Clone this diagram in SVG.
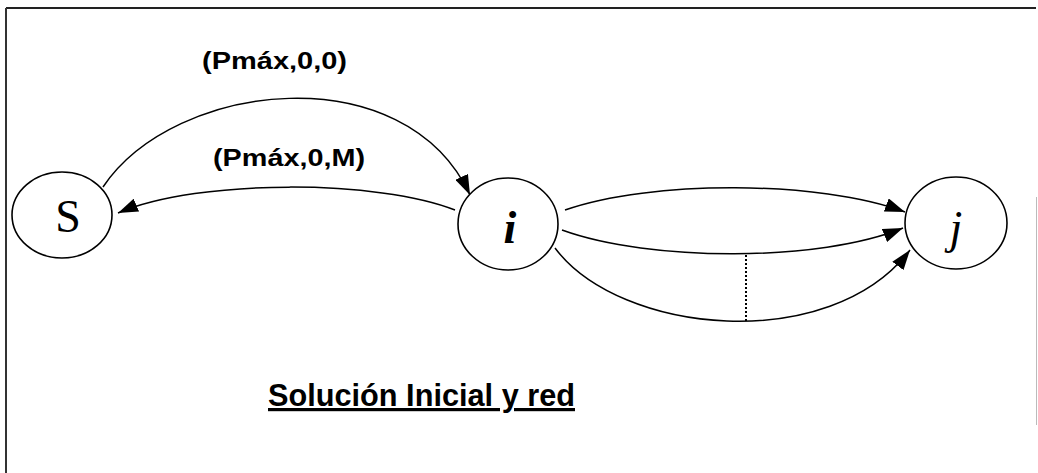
<svg xmlns="http://www.w3.org/2000/svg" width="1038" height="473" viewBox="0 0 1038 473">
<style>
.node{fill:#fff;stroke:#000;stroke-width:1.6}
.nl{font-family:"Liberation Serif","DejaVu Serif",serif;font-size:46px;fill:#000;text-anchor:middle}
.edge{fill:none;stroke:#000;stroke-width:1.5}
.lbl{font-family:"Liberation Sans",Arial,sans-serif;font-weight:bold;font-size:24px;fill:#000}
.title{font-family:"Liberation Sans",Arial,sans-serif;font-weight:bold;font-size:32px;fill:#000}
</style>
<defs>
<marker id="ah" markerWidth="22" markerHeight="14" refX="20" refY="7" orient="auto" markerUnits="userSpaceOnUse">
<path d="M0,0 L20,7 L0,14 z" fill="#000"/>
</marker>
</defs>
<rect width="1038" height="473" fill="#fff"/>
<g id="frame">
<line x1="6" y1="8" x2="1036" y2="8" stroke="#222" stroke-width="2"/>
<line x1="6" y1="8" x2="6" y2="473" stroke="#333" stroke-width="2"/>
<line x1="1036.5" y1="197" x2="1036.5" y2="425" stroke="#bbb" stroke-width="1"/>
</g>
<g id="connectors">
<path class="edge" d="M103,187 C175,80 405,55 470,195" marker-end="url(#ah)"/>
<path class="edge" d="M455,210 C380,180 200,178 118,213" marker-end="url(#ah)"/>
<path class="edge" d="M565,210 C650,180 820,180 905,212" marker-end="url(#ah)"/>
<path class="edge" d="M562,230 C650,262 820,262 903,228" marker-end="url(#ah)"/>
<path class="edge" d="M555,248 C620,335 830,355 910,250" marker-end="url(#ah)"/>
<line x1="746" y1="255" x2="746" y2="323" stroke="#000" stroke-width="2" stroke-dasharray="2,2"/>
</g>
<g id="node-S">
<ellipse class="node" cx="62" cy="215" rx="50" ry="43"/>
<text class="nl" x="68" y="232">S</text>
</g>
<g id="node-i">
<ellipse class="node" cx="508" cy="224" rx="50" ry="46"/>
<text class="nl" x="510" y="243" font-style="italic" font-weight="bold">i</text>
</g>
<g id="node-j">
<ellipse class="node" cx="956" cy="223" rx="51" ry="46"/>
<text class="nl" x="956" y="243" font-style="italic">j</text>
</g>
<g id="labels">
<text class="lbl" x="202" y="69" textLength="145" lengthAdjust="spacingAndGlyphs">(Pmáx,0,0)</text>
<text class="lbl" x="213" y="166" textLength="152" lengthAdjust="spacingAndGlyphs">(Pmáx,0,M)</text>
<text class="title" x="268" y="406" textLength="307" lengthAdjust="spacingAndGlyphs" text-decoration="underline">Solución Inicial y red</text>
</g>
</svg>
